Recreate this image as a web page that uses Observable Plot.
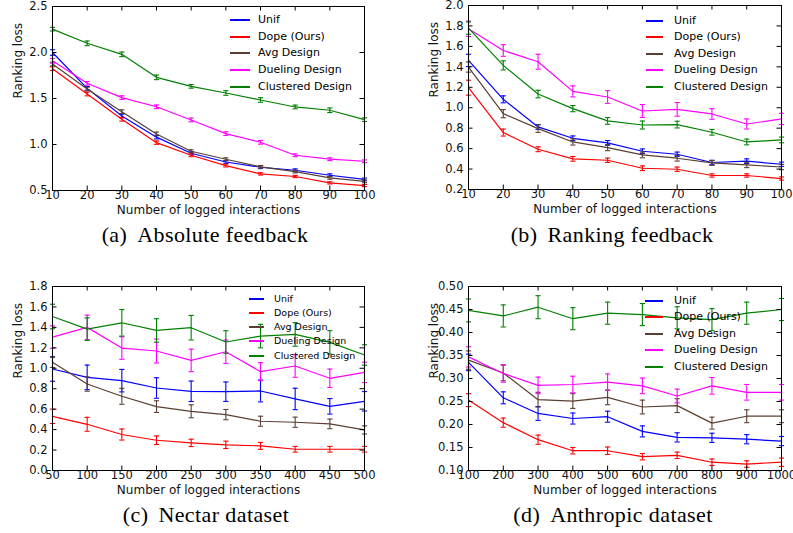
<!DOCTYPE html>
<html><head><meta charset="utf-8">
<script src="https://cdn.jsdelivr.net/npm/d3@7"></script>
<script src="https://cdn.jsdelivr.net/npm/@observablehq/plot@0.6"></script>
<style>
body{margin:0;background:#fff;}
#root{position:relative;width:793px;height:533px;overflow:hidden;background:#fff;}
.panel{position:absolute;}
.cap{position:absolute;font-family:"Liberation Serif","Times New Roman",serif;font-size:22px;line-height:22px;letter-spacing:0.4px;color:#000;white-space:nowrap;transform:translateX(-50%);}
.leg{position:absolute;font-family:"DejaVu Sans",sans-serif;color:#000;white-space:nowrap;}
.leg .row{position:absolute;left:0;display:flex;align-items:center;}
.leg .sw{display:inline-block;height:2px;}
</style>
</head><body><div id="root"></div>
<script>
// ---------- data ----------
const methods = ["Unif", "Dope (Ours)", "Avg Design", "Dueling Design", "Clustered Design"];
const colors = ["#0000ff", "#ff0000", "#5a3f32", "#ff00ff", "#008000"];

// (a) Absolute feedback
const absX = [10, 20, 30, 40, 50, 60, 70, 80, 90, 100];
const absUnif = [2.00, 1.61, 1.31, 1.08, 0.905, 0.81, 0.753, 0.72, 0.666, 0.62];
const absUnifErr = [0.03, 0.02, 0.02, 0.02, 0.015, 0.015, 0.015, 0.015, 0.015, 0.015];
const absDope = [1.824, 1.549, 1.274, 1.02, 0.883, 0.771, 0.68, 0.652, 0.583, 0.554];
const absDopeErr = [0.02, 0.02, 0.02, 0.018, 0.015, 0.015, 0.012, 0.012, 0.012, 0.012];
const absAvg = [1.874, 1.603, 1.357, 1.115, 0.927, 0.84, 0.757, 0.706, 0.637, 0.60];
const absAvgErr = [0.02, 0.02, 0.02, 0.02, 0.015, 0.015, 0.015, 0.015, 0.015, 0.015];
const absDuel = [1.91, 1.665, 1.51, 1.41, 1.267, 1.118, 1.024, 0.883, 0.84, 0.818];
const absDuelErr = [0.025, 0.02, 0.02, 0.02, 0.02, 0.02, 0.02, 0.015, 0.015, 0.015];
const absClus = [2.254, 2.10, 1.98, 1.73, 1.632, 1.56, 1.484, 1.408, 1.372, 1.27];
const absClusErr = [0.02, 0.025, 0.025, 0.025, 0.02, 0.025, 0.025, 0.02, 0.025, 0.02];
const absYTicks = [0.5, 1.0, 1.5, 2.0, 2.5];

// (b) Ranking feedback
const rnkX = [10, 20, 30, 40, 50, 60, 70, 80, 90, 100];
const rnkUnif = [1.463, 1.082, 0.812, 0.701, 0.656, 0.574, 0.545, 0.464, 0.477, 0.447];
const rnkUnifErr = [0.06, 0.034, 0.023, 0.023, 0.023, 0.023, 0.021, 0.021, 0.023, 0.021];
const rnkDope = [1.196, 0.757, 0.594, 0.50, 0.486, 0.408, 0.398, 0.337, 0.337, 0.307];
const rnkDopeErr = [0.073, 0.034, 0.024, 0.023, 0.021, 0.023, 0.021, 0.016, 0.016, 0.016];
const rnkAvg = [1.398, 0.942, 0.796, 0.665, 0.61, 0.538, 0.506, 0.46, 0.44, 0.42];
const rnkAvgErr = [0.05, 0.04, 0.037, 0.03, 0.03, 0.028, 0.028, 0.024, 0.026, 0.026];
const rnkDuel = [1.772, 1.56, 1.45, 1.16, 1.105, 0.968, 0.984, 0.939, 0.841, 0.89];
const rnkDuelErr = [0.075, 0.057, 0.073, 0.054, 0.062, 0.063, 0.067, 0.052, 0.049, 0.055];
const rnkClus = [1.779, 1.414, 1.134, 0.991, 0.871, 0.831, 0.835, 0.76, 0.665, 0.685];
const rnkClusErr = [0.06, 0.044, 0.037, 0.03, 0.033, 0.039, 0.033, 0.028, 0.028, 0.028];
const rnkYTicks = [0.2, 0.4, 0.6, 0.8, 1.0, 1.2, 1.4, 1.6, 1.8, 2.0];

// (c) Nectar dataset
const necX = [50, 100, 150, 200, 250, 300, 350, 400, 450, 500];
const necUnif = [0.993, 0.911, 0.879, 0.807, 0.775, 0.771, 0.778, 0.70, 0.628, 0.677];
const necUnifErr = [0.12, 0.12, 0.11, 0.10, 0.10, 0.095, 0.107, 0.105, 0.076, 0.095];
const necDope = [0.53, 0.452, 0.352, 0.296, 0.27, 0.251, 0.241, 0.208, 0.208, 0.208];
const necDopeErr = [0.07, 0.068, 0.054, 0.042, 0.036, 0.036, 0.034, 0.028, 0.028, 0.028];
const necAvg = [1.058, 0.846, 0.726, 0.625, 0.579, 0.547, 0.482, 0.472, 0.456, 0.397];
const necAvgErr = [0.05, 0.07, 0.078, 0.057, 0.063, 0.05, 0.049, 0.05, 0.047, 0.04];
const necDuel = [1.305, 1.40, 1.198, 1.169, 1.077, 1.162, 0.967, 1.022, 0.902, 0.96];
const necDuelErr = [0.11, 0.12, 0.11, 0.117, 0.11, 0.114, 0.088, 0.11, 0.09, 0.10];
const necClus = [1.507, 1.383, 1.445, 1.37, 1.397, 1.257, 1.315, 1.331, 1.253, 1.13];
const necClusErr = [0.12, 0.11, 0.13, 0.115, 0.12, 0.11, 0.115, 0.115, 0.115, 0.10];
const necYTicks = [0.0, 0.2, 0.4, 0.6, 0.8, 1.0, 1.2, 1.4, 1.6, 1.8];

// (d) Anthropic dataset
const antX = [100, 200, 300, 400, 500, 600, 700, 800, 900, 1000];
const antUnif = [0.335, 0.258, 0.224, 0.213, 0.217, 0.185, 0.172, 0.171, 0.168, 0.164];
const antUnifErr = [0.018, 0.013, 0.015, 0.012, 0.012, 0.012, 0.01, 0.01, 0.01, 0.01];
const antDope = [0.253, 0.204, 0.167, 0.143, 0.143, 0.13, 0.133, 0.118, 0.114, 0.118];
const antDopeErr = [0.014, 0.01, 0.01, 0.007, 0.008, 0.007, 0.007, 0.007, 0.007, 0.009];
const antAvg = [0.34, 0.312, 0.254, 0.251, 0.259, 0.238, 0.241, 0.203, 0.218, 0.218];
const antAvgErr = [0.02, 0.017, 0.016, 0.016, 0.016, 0.015, 0.015, 0.013, 0.014, 0.014];
const antDuel = [0.347, 0.311, 0.285, 0.287, 0.292, 0.284, 0.262, 0.284, 0.27, 0.27];
const antDuelErr = [0.022, 0.019, 0.018, 0.018, 0.018, 0.017, 0.015, 0.018, 0.017, 0.017];
const antClus = [0.448, 0.436, 0.455, 0.43, 0.442, 0.439, 0.432, 0.428, 0.442, 0.45];
const antClusErr = [0.025, 0.024, 0.025, 0.024, 0.024, 0.024, 0.024, 0.024, 0.024, 0.024];
const antYTicks = [0.10, 0.15, 0.20, 0.25, 0.30, 0.35, 0.40, 0.45, 0.50];

const xLabel = "Number of logged interactions";
const yLabel = "Ranking loss";
const captions = ["(a)", "Absolute feedback", "(b)", "Ranking feedback", "(c)", "Nectar dataset", "(d)", "Anthropic dataset"];

// ---------- layout ----------
const panels = [
  {x: absX, series: [absUnif, absDope, absAvg, absDuel, absClus], errs: [absUnifErr, absDopeErr, absAvgErr, absDuelErr, absClusErr],
   yTicks: absYTicks, fmt: d3.format(".1f"), yDomain: [0.5, 2.5],
   left: 0, top: 0, width: 395, height: 226, mL: 52, mR: 31, mT: 6, mB: 36,
   leg: {sx: 230, tx: 258, sw: 20, y0: 19.5, dy: 16.7, fs: 11}, cap: {i: 0, cx: 205, top: 224}},
  {x: rnkX, series: [rnkUnif, rnkDope, rnkAvg, rnkDuel, rnkClus], errs: [rnkUnifErr, rnkDopeErr, rnkAvgErr, rnkDuelErr, rnkClusErr],
   yTicks: rnkYTicks, fmt: d3.format(".1f"), yDomain: [0.2, 2.0],
   left: 395, top: 0, width: 398, height: 226, mL: 73, mR: 12, mT: 5, mB: 37,
   leg: {sx: 646, tx: 674, sw: 17, y0: 20, dy: 16.6, fs: 11}, cap: {i: 2, cx: 612, top: 224}},
  {x: necX, series: [necUnif, necDope, necAvg, necDuel, necClus], errs: [necUnifErr, necDopeErr, necAvgErr, necDuelErr, necClusErr],
   yTicks: necYTicks, fmt: d3.format(".1f"), yDomain: [0, 1.8],
   left: 0, top: 262, width: 395, height: 246, mL: 52, mR: 31, mT: 24, mB: 38,
   leg: {sx: 249, tx: 274, sw: 15, y0: 298.3, dy: 14.2, fs: 9.5}, cap: {i: 4, cx: 206, top: 504}},
  {x: antX, series: [antUnif, antDope, antAvg, antDuel, antClus], errs: [antUnifErr, antDopeErr, antAvgErr, antDuelErr, antClusErr],
   yTicks: antYTicks, fmt: d3.format(".2f"), yDomain: [0.10, 0.50],
   left: 395, top: 262, width: 398, height: 246, mL: 73, mR: 12, mT: 24, mB: 38,
   leg: {sx: 645, tx: 674, sw: 18, y0: 300, dy: 16.6, fs: 11}, cap: {i: 6, cx: 613, top: 504}}
];

const capSymbol = {draw(ctx, size) { const r = Math.sqrt(size / Math.PI); ctx.moveTo(-r, 0); ctx.lineTo(r, 0); }};
const root = document.getElementById("root");

for (const p of panels) {
  const rows = [];
  p.series.forEach((vals, k) => vals.forEach((v, i) => rows.push({
    m: methods[k], k, x: p.x[i], y: v, lo: v - p.errs[k][i], hi: v + p.errs[k][i]
  })));
  const fw = p.width - p.mL - p.mR, fh = p.height - p.mT - p.mB;
  const tk = 4.5;
  const marks = [];
  methods.forEach((m, k) => {
    const d = rows.filter(r => r.k === k);
    marks.push(Plot.line(d, {x: "x", y: "y", stroke: colors[k], strokeWidth: 1.2}));
    marks.push(Plot.ruleX(d, {x: "x", y1: "lo", y2: "hi", stroke: colors[k], strokeWidth: 1.1}));
    marks.push(Plot.dot(d, {x: "x", y: "lo", symbol: capSymbol, r: 2.6, stroke: colors[k], fill: "none", strokeWidth: 1.1}));
    marks.push(Plot.dot(d, {x: "x", y: "hi", symbol: capSymbol, r: 2.6, stroke: colors[k], fill: "none", strokeWidth: 1.1}));
  });
  // inward ticks on all four sides
  marks.push(Plot.tickX(p.x, {x: d => d, insetTop: fh - tk, stroke: "#000"}));
  marks.push(Plot.tickX(p.x, {x: d => d, insetBottom: fh - tk, stroke: "#000"}));
  marks.push(Plot.tickY(p.yTicks, {y: d => d, insetRight: fw - tk, stroke: "#000"}));
  marks.push(Plot.tickY(p.yTicks, {y: d => d, insetLeft: fw - tk, stroke: "#000"}));
  // tick labels
  marks.push(Plot.text(p.x, {x: d => d, frameAnchor: "bottom", dy: 8.5, text: d => String(d), fontSize: 11.5, fill: "#111"}));
  marks.push(Plot.text(p.yTicks, {y: d => d, frameAnchor: "left", dx: -5, textAnchor: "end", text: d => p.fmt(d), fontSize: 11.5, fill: "#111"}));
  // axis titles
  marks.push(Plot.text([xLabel], {frameAnchor: "bottom", dy: 23, text: d => d, fontSize: 12, fill: "#111"}));
  marks.push(Plot.text([yLabel], {frameAnchor: "left", dx: -34, rotate: -90, text: d => d, fontSize: 12, fill: "#111"}));
  marks.push(Plot.frame({stroke: "#000", strokeWidth: 1}));

  const svg = Plot.plot({
    width: p.width, height: p.height,
    marginLeft: p.mL, marginRight: p.mR, marginTop: p.mT, marginBottom: p.mB,
    x: {domain: [p.x[0], p.x[p.x.length - 1]], axis: null},
    y: {domain: p.yDomain, axis: null},
    style: {fontFamily: "DejaVu Sans, sans-serif", background: "transparent", overflow: "visible"},
    marks
  });
  svg.classList.add("panel");
  svg.style.left = p.left + "px";
  svg.style.top = p.top + "px";
  root.appendChild(svg);

  // legend (frameless, like matplotlib)
  const leg = document.createElement("div");
  leg.className = "leg";
  leg.style.left = p.leg.sx + "px";
  leg.style.top = "0px";
  leg.style.fontSize = p.leg.fs + "px";
  methods.forEach((m, k) => {
    const row = document.createElement("div");
    row.className = "row";
    const h = Math.round(p.leg.fs * 1.2);
    row.style.top = Math.round(p.leg.y0 + k * p.leg.dy - h / 2) + "px";
    row.style.height = h + "px";
    const sw = document.createElement("span");
    sw.className = "sw";
    sw.style.width = p.leg.sw + "px";
    sw.style.background = colors[k];
    const tx = document.createElement("span");
    tx.textContent = m;
    tx.style.marginLeft = (p.leg.tx - p.leg.sx - p.leg.sw) + "px";
    row.appendChild(sw); row.appendChild(tx);
    leg.appendChild(row);
  });
  root.appendChild(leg);

  const cap = document.createElement("div");
  cap.className = "cap";
  cap.style.left = p.cap.cx + "px";
  cap.style.top = p.cap.top + "px";
  cap.innerHTML = captions[p.cap.i] + '<span style="margin-left:10px">' + captions[p.cap.i + 1] + "</span>";
  root.appendChild(cap);
}
</script></body></html>
